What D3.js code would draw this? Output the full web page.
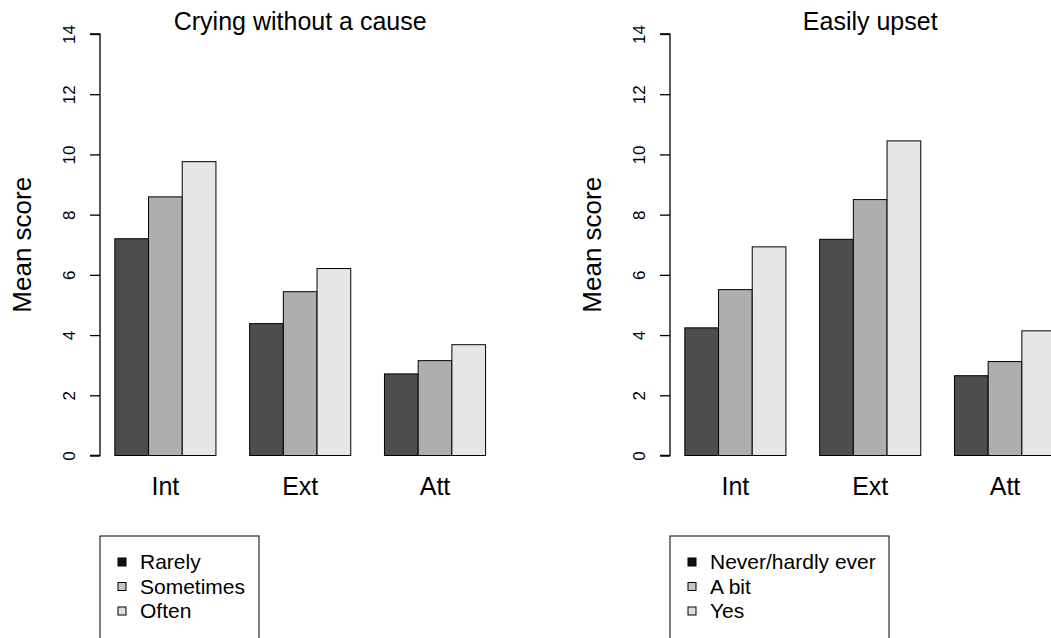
<!DOCTYPE html>
<html>
<head>
<meta charset="utf-8">
<script src="https://cdn.jsdelivr.net/npm/d3@7/dist/d3.min.js"></script>
<style>
html,body{margin:0;padding:0;background:#fff;overflow:hidden;}
svg{display:block;font-family:"Liberation Sans",Arial,Helvetica,sans-serif;}
</style>
</head>
<body>
<svg id="chart" width="1051" height="638"></svg>
<script>
const categories = ["Int", "Ext", "Att"];
const yTicks = [0, 2, 4, 6, 8, 10, 12, 14];

const panel1Title = "Crying without a cause";
const panel1Levels = ["Rarely", "Sometimes", "Often"];
const panel1Values = [
  [7.20, 8.59, 9.76],  // Int
  [4.38, 5.44, 6.21],  // Ext
  [2.71, 3.15, 3.68]   // Att
];

const panel2Title = "Easily upset";
const panel2Levels = ["Never/hardly ever", "A bit", "Yes"];
const panel2Values = [
  [4.24, 5.51, 6.93],  // Int
  [7.18, 8.50, 10.45], // Ext
  [2.65, 3.12, 4.14]   // Att
];

const barColors = ["#4d4d4d", "#aeaeae", "#e6e6e6"];
const legendColors = ["#111111", "#c6c6c6", "#dedede"];

const panels = [
  {title: panel1Title, levels: panel1Levels, values: panel1Values, ox: 0, legendW: 159},
  {title: panel2Title, levels: panel2Levels, values: panel2Values, ox: 570, legendW: 219}
];

const svg = d3.select("#chart");

panels.forEach(p => {
  const g = svg.append("g").attr("transform", `translate(${p.ox},0)`);
  const x = d3.scaleLinear().domain([0.56, 12.44]).range([100, 500.4]);
  const y = d3.scaleLinear().domain([0, 14]).range([455.5, 34]);

  const bars = [];
  p.values.forEach((grp, gi) => {
    grp.forEach((v, si) => {
      bars.push({gi, si, v, left: 1 + gi * 4 + si});
    });
  });

  g.selectAll("rect.bar").data(bars).enter().append("rect")
    .attr("class", "bar")
    .attr("x", d => x(d.left))
    .attr("width", d => x(d.left + 1) - x(d.left))
    .attr("y", d => y(d.v))
    .attr("height", d => y(0) - y(d.v))
    .attr("fill", d => barColors[d.si])
    .attr("stroke", "#000")
    .attr("stroke-width", 1);

  const axis = d3.axisLeft(y).tickValues(yTicks).tickSize(10).tickPadding(0).tickFormat(d3.format("d"));
  const ag = g.append("g").attr("transform", "translate(100,0)").call(axis);
  ag.select(".domain").attr("stroke", "#000").attr("stroke-width", 1.3).attr("d", `M-10,${y(0)}H0V${y(14)}H-10`);
  ag.selectAll(".tick line").attr("stroke", "#000").attr("stroke-width", 1.3);
  ag.selectAll(".tick text")
    .attr("font-size", 17)
    .attr("fill", "#000")
    .attr("font-family", '"Liberation Sans",Arial,sans-serif')
    .attr("x", 0).attr("dy", 0)
    .attr("text-anchor", "middle")
    .attr("transform", "translate(-25,0) rotate(-90)");

  g.selectAll("text.cat").data(categories).enter().append("text")
    .attr("class", "cat")
    .attr("x", (d, i) => x(1 + i * 4 + 1.5))
    .attr("y", 495)
    .attr("text-anchor", "middle")
    .attr("font-size", 25)
    .text(d => d);

  g.append("text")
    .attr("x", (x.range()[0] + x.range()[1]) / 2)
    .attr("y", 30)
    .attr("text-anchor", "middle")
    .attr("font-size", 25)
    .text(p.title);

  g.append("text")
    .attr("transform", `translate(31,${(y(0) + y(14)) / 2}) rotate(-90)`)
    .attr("text-anchor", "middle")
    .attr("font-size", 26)
    .text("Mean score");

  const lg = g.append("g").attr("transform", "translate(100,536)");
  lg.append("rect").attr("x", 0).attr("y", 0).attr("width", p.legendW).attr("height", 140)
    .attr("fill", "none").attr("stroke", "#000").attr("stroke-width", 1);
  p.levels.forEach((lab, i) => {
    const cy = 26 + i * 24.5;
    lg.append("rect").attr("x", 18).attr("y", cy - 4).attr("width", 8).attr("height", 8)
      .attr("fill", legendColors[i]).attr("stroke", "#000").attr("stroke-width", 1);
    lg.append("text").attr("x", 40).attr("y", cy + 7).attr("font-size", 21).text(lab);
  });
});
</script>
</body>
</html>
